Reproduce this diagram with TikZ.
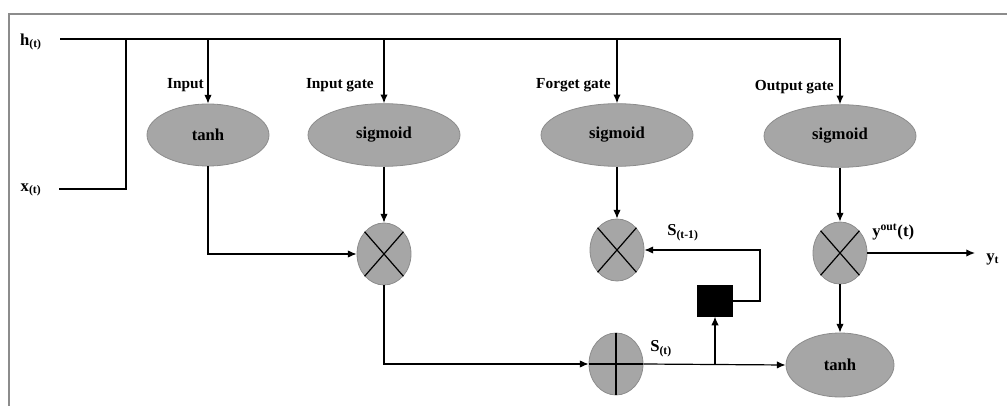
\documentclass[tikz,border=0pt]{standalone}
\usepackage{fontspec}
\setmainfont{Liberation Serif}
\usetikzlibrary{shapes.geometric,arrows.meta}
\begin{document}
\begin{tikzpicture}[x=0.75pt,y=-0.75pt,
  every node/.style={font=\bfseries\fontsize{11.5}{13}\selectfont, inner sep=0pt},
  gate/.style={ellipse, draw=black!45, fill=black!35, line width=0.6pt, font=\bfseries\fontsize{12.5}{14}\selectfont},
  opnode/.style={ellipse, draw=black!45, fill=black!35, line width=0.6pt, minimum width=40.5pt, minimum height=46.5pt},
  conn/.style={line width=0.9pt, draw=black},
  arr/.style={conn, -{Latex[length=6.5pt,width=5.5pt]}},
  lbl/.style={}]
\useasboundingbox (0,0) rectangle (1007,406);
% frame
\draw[black!45, line width=1.8pt] (9,406) -- (9,14) -- (1007,14);

% nodes
\node[gate, minimum width=91.5pt, minimum height=46.5pt] (tA) at (208,135) {tanh};
\node[gate, minimum width=114pt, minimum height=47pt] (ig) at (384,135) {sigmoid};
\node[gate, minimum width=114pt, minimum height=47pt] (fg) at (617,135) {sigmoid};
\node[gate, minimum width=114pt, minimum height=47pt] (og) at (840,136) {sigmoid};
\node[opnode] (im) at (384,254) {};
\node[opnode] (fm) at (617,250) {};
\node[opnode] (om) at (840,253) {};
\node[opnode] (pl) at (616,364) {};
\node[gate, minimum width=81pt, minimum height=48pt] (tB) at (840,365) {tanh};
\node[draw=black, fill=black, minimum width=26pt, minimum height=23pt] (sq) at (715,301) {};

% crosses and plus
\foreach \n in {im,fm,om}{
  \draw[conn] (\n.north east) -- (\n.south west);
  \draw[conn] (\n.north west) -- (\n.south east);
}
\draw[conn] (pl.north) -- (pl.south);
\draw[conn] (pl.west) -- (pl.east);

% coordinates
\coordinate (hs) at (60,39);
\coordinate (xs) at (59,189);
\coordinate (hj) at (126,39);
\coordinate (br) at (715,364);
\coordinate (fb) at (760,250);
\coordinate (yend) at (975,253);

% h and x lines
\draw[arr] (hs) -| (og.north);
\draw[conn] (xs) -| (hj);
\draw[arr] (tA.north |- hs) -- (tA.north);
\draw[arr] (ig.north |- hs) -- (ig.north);
\draw[arr] (fg.north |- hs) -- (fg.north);

% gate flows
\draw[arr] (tA.south) |- (im.west);
\draw[arr] (ig.south) -- (im.north);
\draw[arr] (fg.south) -- (fm.north);
\draw[arr] (og.south) -- (om.north);
\draw[arr] (im.south) |- (pl.west);
\draw[arr] (pl.east) -- (tB.west);
\draw[arr] (br) -- (sq.south);
\draw[arr] (sq.east) -| (fb) -- (fm.east);
\draw[arr] (om.south) -- (tB.north);
\draw[arr] (om.east) -- (yend);

% labels
\node (lh) at (31,42) {\fontsize{12.5}{14}\selectfont h\textsubscript{(t)}};
\node (lx) at (31,190) {\fontsize{12.5}{14}\selectfont x\textsubscript{(t)}};
\node[anchor=east] (l1) at (204,85) {Input};
\node[anchor=east] (l2) at (374,85) {Input gate};
\node[anchor=east] (l3) at (611,85) {Forget gate};
\node[anchor=east] (l4) at (834,87) {Output gate};
\node[anchor=west] (ls1) at (667,233) {\fontsize{12.5}{14}\selectfont S\textsubscript{(t-1)}};
\node[anchor=west] (ls) at (650,349) {\fontsize{12.5}{14}\selectfont S\textsubscript{(t)}};
\node[anchor=west] (ly) at (872,232) {\fontsize{12.5}{14}\selectfont y\textsuperscript{out}(t)};
\node[anchor=west] (lyt) at (986,259) {\fontsize{12.5}{14}\selectfont y\textsubscript{t}};
\end{tikzpicture}
\end{document}
